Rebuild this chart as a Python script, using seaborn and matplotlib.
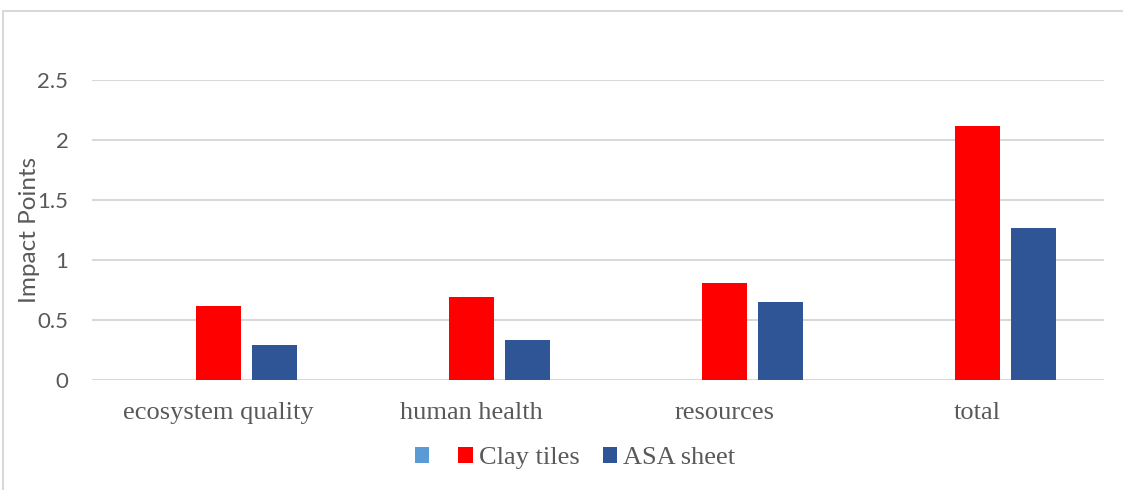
import matplotlib
matplotlib.use("Agg")
import matplotlib.pyplot as plt
from matplotlib.patches import Patch, Rectangle
import pandas as pd
import seaborn as sns

categories = ["ecosystem quality", "human health", "resources", "total"]
series_names = ["", "Clay tiles", "ASA sheet"]
blank_values = [0, 0, 0, 0]
clay_values = [0.62, 0.69, 0.81, 2.12]
asa_values = [0.29, 0.33, 0.65, 1.27]
y_ticks = [0, 0.5, 1, 1.5, 2, 2.5]
y_tick_labels = ["0", "0.5", "1", "1.5", "2", "2.5"]

colors = ["#5B9BD5", "#FF0000", "#2F5597"]
text_gray = "#595959"
grid_gray = "#D9D9D9"

df = pd.DataFrame({
    "category": categories * 3,
    "series": [s for s in series_names for _ in categories],
    "value": blank_values + clay_values + asa_values,
})

sns.set_theme(style="white")
plt.rcParams["font.family"] = ["Lato", "DejaVu Sans"]

fig = plt.figure(figsize=(11.23, 4.90), dpi=100)
ax = fig.add_axes([92 / 1123, 1 - 380 / 490, (1104 - 92) / 1123, 300 / 490])

sns.barplot(
    data=df, x="category", y="value", hue="series",
    hue_order=series_names, order=categories,
    palette=colors, saturation=1, width=0.664, gap=0.21,
    linewidth=0, ax=ax, legend=False, errorbar=None,
)

ax.set_xlim(-0.5, 3.5)
ax.set_ylim(0, 2.5)
ax.set_yticks(y_ticks)
ax.set_yticklabels(y_tick_labels)
ax.set_axisbelow(True)
ax.yaxis.grid(True, color=grid_gray, linewidth=1.5)
ax.xaxis.grid(False)
for s in ax.spines.values():
    s.set_visible(False)
ax.tick_params(axis="y", length=0, pad=17, labelsize=16, labelcolor=text_gray)
ax.tick_params(axis="x", length=0, pad=16, labelcolor=text_gray)
for lab in ax.get_xticklabels():
    lab.set_fontfamily("Liberation Serif")
    lab.set_fontsize(19)
ax.set_xlabel("")
ax.set_ylabel("Impact Points", fontsize=17.5, color=text_gray, labelpad=-2)

handles = [Patch(facecolor=c, edgecolor="none") for c in colors]
fig.legend(
    handles, series_names, loc="center", bbox_to_anchor=(575 / 1123, 1 - 458 / 490),
    ncol=3, frameon=False, handlelength=0.55, handleheight=0.55,
    handletextpad=0.23, columnspacing=0.87,
    prop={"family": "Liberation Serif", "size": 19}, labelcolor=text_gray,
)

# outer chart frame (top and left edges visible)
fig.patches.append(Rectangle((3 / 1123, -0.05), 1.2, 1 - 11 / 490 + 0.05,
                             transform=fig.transFigure, fill=False,
                             edgecolor=grid_gray, linewidth=1.5, clip_on=False))

fig.savefig("out.png", dpi=100)
